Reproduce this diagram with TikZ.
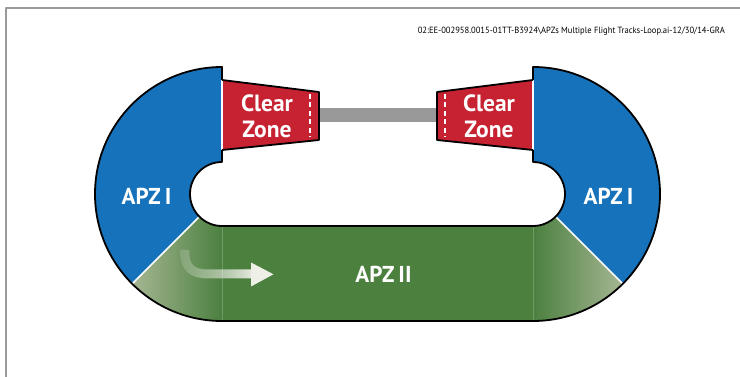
\documentclass[tikz,border=0pt]{standalone}
\usepackage{fontspec}
\setmainfont{PT Sans}
\usetikzlibrary{fadings}
\definecolor{apzblue}{HTML}{1672BA}
\definecolor{apzred}{HTML}{C62231}
\definecolor{apzgreen}{HTML}{4B803F}
\definecolor{apzpale}{HTML}{A7B794}
\definecolor{rwgray}{HTML}{999999}
\definecolor{framegray}{HTML}{9A9A9A}
\definecolor{arrowcol}{HTML}{EEEFE6}
\tikzfading[name=arrowfade, left color=transparent!85, right color=transparent!0]
\newcommand{\apzgreenpath}{(199.37,216.63) -- (132.2,283.8) arc[start angle=135, end angle=90, radius=127] -- (533,321) arc[start angle=90, end angle=45, radius=127] -- (555.63,216.63) arc[start angle=45, end angle=90, radius=32] -- (222,226) arc[start angle=90, end angle=135, radius=32] -- cycle}
\begin{document}
\begin{tikzpicture}[x=1pt,y=-1pt,line join=round,
  outline/.style={draw=black, line width=1.8pt},
  whiteline/.style={draw=white, line width=1.6pt},
  dashline/.style={draw=white, line width=1.5pt, dash pattern=on 5pt off 3.5pt},
  zonelabel/.style={text=white, font=\bfseries\fontsize{23.5}{26}\selectfont, align=center, inner sep=0pt},
  apzlabel/.style={text=white, font=\bfseries\fontsize{23}{26}\selectfont, inner sep=0pt}]
\useasboundingbox (0,0) rectangle (740,377);
\fill[white] (0,0) rectangle (740,377);
% frame
\draw[framegray, line width=2pt] (741,8) -- (6,8) -- (6,378);
% header
\node[anchor=base east, inner sep=0pt] (hdr) at (725,33.5) {\resizebox{307pt}{\height}{\fontsize{9}{10}\selectfont 02:EE-002958.0015-01TT-B3924\textbackslash APZs Multiple Flight Tracks-Loop.ai-12/30/14-GRA}};
% runway
\fill[rwgray] (319,108) rectangle (437,122);
% blue zones
\fill[apzblue] (222,67) arc[start angle=270, end angle=135, radius=127] -- (199.37,216.63) arc[start angle=135, end angle=270, radius=32] -- cycle;
\fill[apzblue] (533,67) arc[start angle=-90, end angle=45, radius=127] -- (555.63,216.63) arc[start angle=45, end angle=-90, radius=32] -- cycle;
% green zone
\fill[apzgreen] \apzgreenpath;
\begin{scope}
  \clip \apzgreenpath;
  \shade[left color=apzpale, right color=apzgreen] (131,200) rectangle (222,330);
  \shade[left color=apzgreen, right color=apzpale] (533,200) rectangle (624,330);
  \draw[apzgreen!80!white, line width=0.6pt] (222,226) -- (222,321);
  \draw[apzgreen!80!white, line width=0.6pt] (533,226) -- (533,321);
\end{scope}
\draw[whiteline] (199.37,216.63) -- (132.2,283.8);
\draw[whiteline] (555.63,216.63) -- (622.8,283.8);
% clear zones
\fill[apzred] (222,80) -- (319,92) -- (319,140) -- (222,150) -- cycle;
\fill[apzred] (533,80) -- (437,92) -- (437,140) -- (533,150) -- cycle;
\draw[dashline] (310,94) -- (310,137);
\draw[dashline] (445,94) -- (445,137);
\draw[whiteline] (222,80) -- (222,150);
\draw[whiteline] (533,80) -- (533,150);
\draw[outline] (222,80) -- (319,92) -- (319,140) -- (222,150);
\draw[outline] (533,80) -- (437,92) -- (437,140) -- (533,150);
% outlines
\draw[outline] (222,80) -- (222,67) arc[start angle=270, end angle=90, radius=127] -- (533,321) arc[start angle=90, end angle=-90, radius=127] -- (533,80);
\draw[outline] (222,150) -- (222,162) arc[start angle=270, end angle=90, radius=32] -- (533,226) arc[start angle=90, end angle=-90, radius=32] -- (533,150);
% arrow
\draw[arrowcol, line width=9pt, path fading=arrowfade] (184.5,250) .. controls (184.5,268) and (192,274) .. (208,274) -- (253,274);
\fill[arrowcol] (251,262.5) -- (273.5,274.3) -- (251,286.5) -- cycle;
% labels
\node[zonelabel] (czl) at (267,116.5) {Clear\\Zone};
\node[zonelabel] (czr) at (489,116.5) {Clear\\Zone};
\node[apzlabel] (apzl) at (146.5,196) {APZ\hspace{0.18em}I};
\node[apzlabel] (apzr) at (608.5,196) {APZ\hspace{0.18em}I};
\node[apzlabel] (apzii) at (383.5,274) {APZ\hspace{0.18em}II};
\end{tikzpicture}
\end{document}
